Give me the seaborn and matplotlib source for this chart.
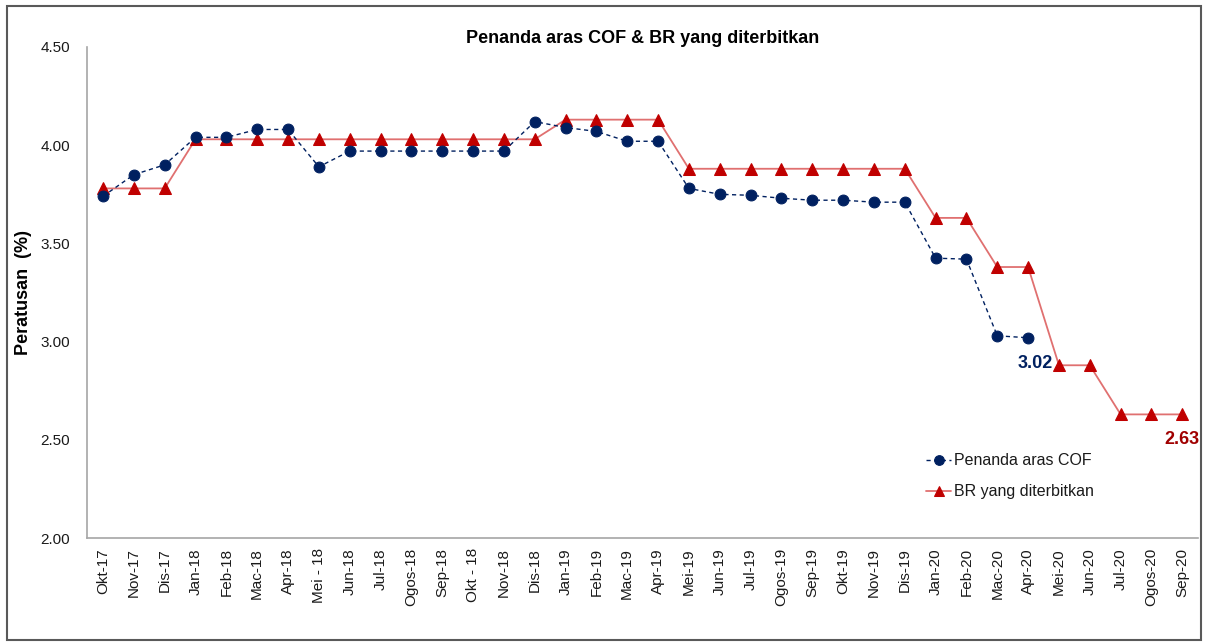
import matplotlib
matplotlib.use("Agg")
import matplotlib.pyplot as plt
import seaborn as sns
import pandas as pd
import numpy as np
from matplotlib.patches import Rectangle

months = ["Okt-17", "Nov-17", "Dis-17", "Jan-18", "Feb-18", "Mac-18", "Apr-18", "Mei - 18",
          "Jun-18", "Jul-18", "Ogos-18", "Sep-18", "Okt - 18", "Nov-18", "Dis-18",
          "Jan-19", "Feb-19", "Mac-19", "Apr-19", "Mei-19", "Jun-19", "Jul-19", "Ogos-19",
          "Sep-19", "Okt-19", "Nov-19", "Dis-19", "Jan-20", "Feb-20", "Mac-20", "Apr-20",
          "Mei-20", "Jun-20", "Jul-20", "Ogos-20", "Sep-20"]

cof = [3.74, 3.85, 3.90, 4.04, 4.04, 4.08, 4.08, 3.89, 3.97, 3.97, 3.97, 3.97, 3.97, 3.97,
       4.12, 4.09, 4.07, 4.02, 4.02, 3.78, 3.75, 3.745, 3.73, 3.72, 3.72, 3.71, 3.71,
       3.425, 3.42, 3.03, 3.02]

br = [3.78, 3.78, 3.78, 4.03, 4.03, 4.03, 4.03, 4.03, 4.03, 4.03, 4.03, 4.03, 4.03, 4.03,
      4.03, 4.13, 4.13, 4.13, 4.13, 3.88, 3.88, 3.88, 3.88, 3.88, 3.88, 3.88, 3.88,
      3.63, 3.63, 3.38, 3.38, 2.88, 2.88, 2.63, 2.63, 2.63]

yticks = [2.00, 2.50, 3.00, 3.50, 4.00, 4.50]

sns.set_theme(style="white")
plt.rcParams['font.family'] = ['Liberation Sans', 'DejaVu Sans']
plt.rcParams['text.color'] = '#1a1a1a'

fig = plt.figure(figsize=(12.08, 6.43), dpi=100)
ax = fig.add_axes([0.072, 0.163, 0.920, 0.764])

x_cof = np.arange(len(cof))
x_br = np.arange(len(br))
df_cof = pd.DataFrame({"x": x_cof, "y": cof})
df_br = pd.DataFrame({"x": x_br, "y": br})

navy = "#002060"
red = "#C00000"

sns.lineplot(data=df_br, x="x", y="y", ax=ax, color="#E07070", linewidth=1.3,
             marker="^", markersize=9, markerfacecolor=red, markeredgecolor=red,
             label="BR yang diterbitkan")
sns.lineplot(data=df_cof, x="x", y="y", ax=ax, color=navy, linewidth=1.0,
             linestyle=(0, (3, 2.5)), marker="o", markersize=7.8, markerfacecolor=navy,
             markeredgecolor=navy, label="Penanda aras COF")

ax.set_xlim(-0.52, 35.52)
ax.set_ylim(2.0, 4.5)
ax.set_yticks(yticks)
ax.set_yticklabels([f"{v:.2f}" for v in yticks], fontsize=11)
ax.set_xticks(np.arange(len(months)))
ax.set_xticklabels(months, rotation=90, fontsize=11)
ax.tick_params(axis="y", length=0, pad=12, labelcolor="#1a1a1a")
ax.tick_params(axis="x", length=0, pad=7, labelcolor="#1a1a1a")
ax.set_xlabel("")
ax.set_ylabel("Peratusan  (%)", fontsize=13, fontweight="bold", labelpad=6, color="black")

for s in ["top", "right"]:
    ax.spines[s].set_visible(False)
for s in ["left", "bottom"]:
    ax.spines[s].set_color("#A6A6A6")
    ax.spines[s].set_linewidth(1.2)

ax.set_title("Penanda aras COF & BR yang diterbitkan", fontsize=13, fontweight="bold",
             pad=3, color="black")

ax.text(x_cof[-1] + 0.8, cof[-1] - 0.13, f"{cof[-1]:.2f}", color=navy, fontsize=13,
        fontweight="bold", ha="right", va="center", clip_on=False)
ax.text(x_br[-1] + 0.55, br[-1] - 0.126, f"{br[-1]:.2f}", color="#A00000", fontsize=13,
        fontweight="bold", ha="right", va="center", clip_on=False)

handles, labels = ax.get_legend_handles_labels()
order = [1, 0]
leg = ax.legend([handles[i] for i in order], [labels[i] for i in order],
                loc="upper left", bbox_to_anchor=(0.749, 0.186), frameon=False,
                fontsize=11.5, handlelength=1.6, handletextpad=0.15, labelspacing=1.0,
                borderaxespad=0)
for h in leg.legend_handles:
    h.set_markersize(7)

fig.patches.append(Rectangle((0.006, 0.005), 0.9885, 0.986, transform=fig.transFigure,
                             fill=False, edgecolor="#595959", linewidth=1.5))

fig.savefig("out.png", dpi=100)
